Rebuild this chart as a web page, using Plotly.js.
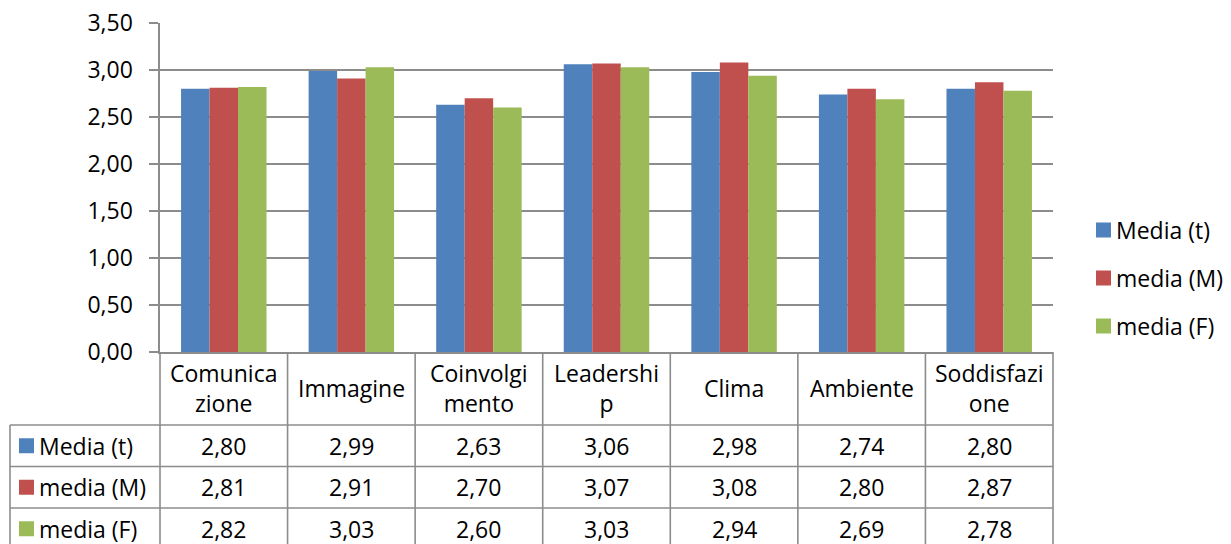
<!DOCTYPE html>
<html>
<head>
<meta charset="utf-8">
<script src="https://cdn.plot.ly/plotly-3.0.1.min.js"></script>
<style>html,body{margin:0;padding:0;background:#fff;}#chart{width:1231px;height:544px;}</style>
</head>
<body>
<div id="chart"></div>
<script>
// ---- data ----
const categories = ["Comunicazione", "Immagine", "Coinvolgimento", "Leadership", "Clima", "Ambiente", "Soddisfazione"];
const headerLabels = ["Comunica<br>zione", "Immagine", "Coinvolgi<br>mento", "Leadershi<br>p", "Clima", "Ambiente", "Soddisfazi<br>one"];
const seriesNames = ["Media (t)", "media (M)", "media (F)"];
const mediaT = [2.80, 2.99, 2.63, 3.06, 2.98, 2.74, 2.80];
const mediaM = [2.81, 2.91, 2.70, 3.07, 3.08, 2.80, 2.87];
const mediaF = [2.82, 3.03, 2.60, 3.03, 2.94, 2.69, 2.78];
const seriesValues = [mediaT, mediaM, mediaF];
const colors = ["#4F81BD", "#C0504D", "#9BBB59"];

// ---- layout geometry ----
const W = 1231, H = 544;
const M = {l: 160, r: 178, t: 23, b: 192};
const plotW = W - M.l - M.r, plotH = H - M.t - M.b;
const FONT = "'Open Sans', 'Noto Sans', sans-serif";
const FS = 23;
const LINE = "#8c8c8c";
const px2x = px => (px - M.l) / plotW;          // pixel x -> paper x
const px2y = py => (H - M.b - py) / plotH;      // pixel y -> paper y
const fmt = v => v.toFixed(2).replace('.', ',');

const traces = seriesValues.map((vals, i) => ({
  type: 'bar', name: seriesNames[i], x: categories, y: vals,
  marker: {color: colors[i]}, showlegend: false, hoverinfo: 'skip'
}));

const shapes = [], annotations = [];
const headerBottom = 425, rowH = 41.5, tableLeft = 10, nRows = seriesNames.length;
// horizontal table lines
for (let r = 0; r <= nRows; r++) {
  const yy = px2y(headerBottom + r * rowH);
  shapes.push({type: 'line', xref: 'paper', yref: 'paper', x0: px2x(tableLeft), x1: 1, y0: yy, y1: yy,
    line: {color: LINE, width: 1.6}});
}
// vertical lines between categories
for (let i = 0; i <= categories.length; i++) {
  shapes.push({type: 'line', xref: 'paper', yref: 'paper', x0: i / categories.length, x1: i / categories.length,
    y0: 0, y1: px2y(headerBottom + nRows * rowH), line: {color: LINE, width: 1.6}});
}
// left border of row-label column
shapes.push({type: 'line', xref: 'paper', yref: 'paper', x0: px2x(tableLeft), x1: px2x(tableLeft),
  y0: px2y(headerBottom), y1: px2y(headerBottom + nRows * rowH), line: {color: LINE, width: 1.6}});

// header labels
categories.forEach((c, i) => {
  annotations.push({xref: 'x', yref: 'paper', x: c, y: px2y((351 + headerBottom) / 2), text: headerLabels[i],
    showarrow: false, font: {family: FONT, size: FS, color: '#000'}, xanchor: 'center', yanchor: 'middle'});
});
// rows
seriesValues.forEach((vals, r) => {
  const cy = headerBottom + r * rowH + rowH / 2;
  shapes.push({type: 'rect', xref: 'paper', yref: 'paper', x0: px2x(19), x1: px2x(34), y0: px2y(cy - 7.5), y1: px2y(cy + 7.5),
    fillcolor: colors[r], line: {width: 0}});
  annotations.push({xref: 'paper', yref: 'paper', x: px2x(37), y: px2y(cy), text: seriesNames[r], showarrow: false,
    font: {family: FONT, size: FS, color: '#000'}, xanchor: 'left', yanchor: 'middle'});
  vals.forEach((v, i) => {
    annotations.push({xref: 'x', yref: 'paper', x: categories[i], y: px2y(cy), text: fmt(v), showarrow: false,
      font: {family: FONT, size: FS, color: '#000'}, xanchor: 'center', yanchor: 'middle'});
  });
});
// right legend
seriesNames.forEach((n, r) => {
  const cy = 230 + r * 48;
  shapes.push({type: 'rect', xref: 'paper', yref: 'paper', x0: px2x(1096), x1: px2x(1111), y0: px2y(cy - 7.5), y1: px2y(cy + 7.5),
    fillcolor: colors[r], line: {width: 0}});
  annotations.push({xref: 'paper', yref: 'paper', x: px2x(1114), y: px2y(cy), text: n, showarrow: false,
    font: {family: FONT, size: FS, color: '#000'}, xanchor: 'left', yanchor: 'middle'});
});

const layout = {
  width: W, height: H, margin: M, paper_bgcolor: '#fff', plot_bgcolor: '#fff',
  separators: ',.', barmode: 'group', bargap: 0.33, bargroupgap: 0,
  font: {family: FONT, size: FS, color: '#000'},
  xaxis: {type: 'category', showticklabels: false, ticks: '', showgrid: false, showline: true,
    linecolor: LINE, linewidth: 1.6, zeroline: false, fixedrange: true},
  yaxis: {range: [0, 3.5], dtick: 0.5, tick0: 0, tickformat: '.2f', showgrid: true, gridcolor: LINE, gridwidth: 1.6,
    showline: true, linecolor: LINE, linewidth: 1.6, ticks: 'outside', ticklen: 9, tickwidth: 1.6, tickcolor: LINE,
    zeroline: false, tickfont: {family: FONT, size: FS, color: '#000'}, ticklabelstandoff: 12, fixedrange: true},
  shapes: shapes, annotations: annotations, showlegend: false
};
Plotly.newPlot('chart', traces, layout, {displayModeBar: false, staticPlot: true});
</script>
</body>
</html>
